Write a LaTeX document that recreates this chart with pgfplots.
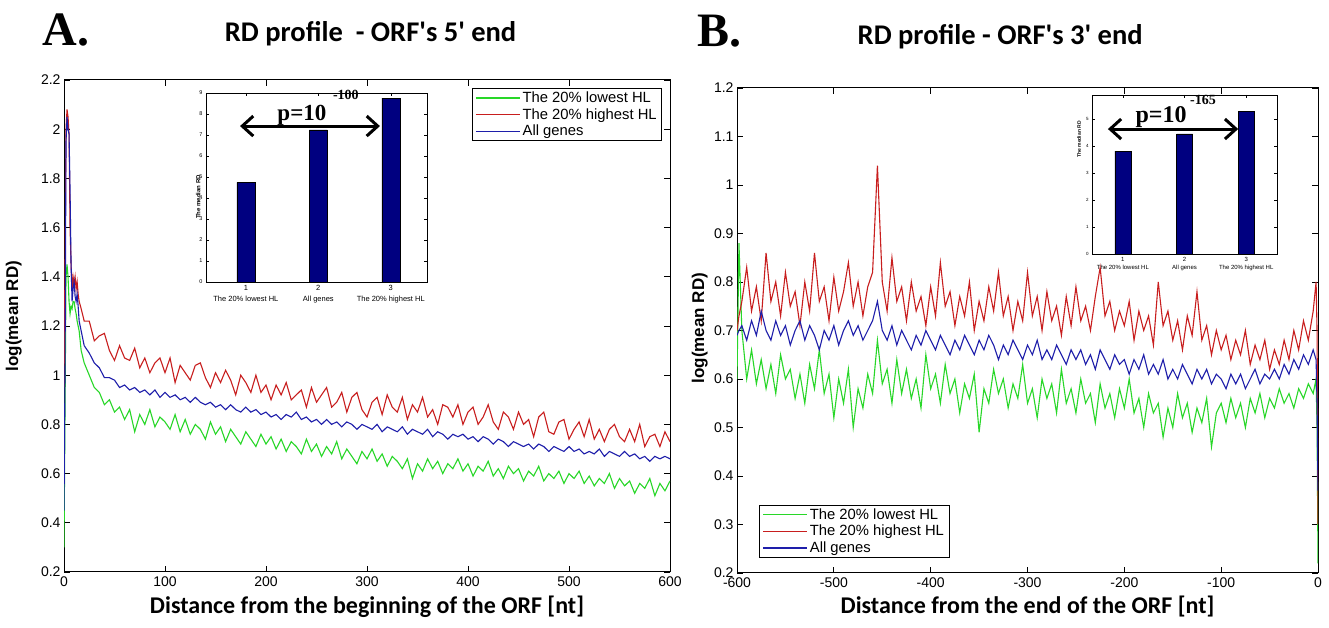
\documentclass[border=0pt]{standalone}
\usepackage{fontspec}
\setmainfont{Liberation Sans}
\newfontfamily\calib{Carlito}
\newfontfamily\serifb{Liberation Serif}
\usepackage{pgfplots}
\usepackage{pgfplotstable}
\pgfplotsset{compat=1.18}
\usetikzlibrary{arrows.meta}
\definecolor{cgreen}{RGB}{40,215,40}
\definecolor{cred}{RGB}{200,30,30}
\definecolor{cblue}{RGB}{30,30,170}
\definecolor{cbar}{RGB}{0,0,128}

\pgfplotstableread{
x g r b
0 0.30 0.95 0.45
1 0.85 1.45 1.00
2 1.40 2.00 1.95
3 1.45 2.08 2.05
4 1.40 2.05 2.00
5 1.30 1.98 1.98
6 1.25 1.60 1.75
7 1.28 1.45 1.45
8 1.27 1.35 1.30
9 1.30 1.40 1.35
10 1.30 1.37 1.38
11 1.27 1.40 1.32
12 1.25 1.35 1.30
13 1.22 1.38 1.33
14 1.20 1.33 1.28
15 1.18 1.30 1.22
17 1.10 1.27 1.18
20 1.05 1.22 1.12
25 1.00 1.22 1.09
30 0.95 1.14 1.05
35 0.93 1.16 1.03
40 0.88 1.17 0.99
45 0.90 1.10 0.99
50 0.85 1.06 0.98
55 0.87 1.12 0.95
60 0.82 1.07 0.96
65 0.86 1.06 0.94
70 0.77 1.11 0.95
75 0.84 1.03 0.93
80 0.80 1.07 0.94
85 0.86 1.01 0.92
90 0.79 1.05 0.94
95 0.83 1.07 0.91
100 0.81 1.01 0.93
105 0.78 1.07 0.91
110 0.84 0.97 0.92
115 0.77 1.04 0.90
120 0.82 1.01 0.91
125 0.76 0.98 0.89
130 0.80 1.04 0.91
135 0.78 1.05 0.89
140 0.74 0.99 0.88
145 0.81 0.95 0.89
150 0.76 1.01 0.87
155 0.79 0.97 0.88
160 0.73 1.02 0.86
165 0.78 0.98 0.88
170 0.75 0.92 0.86
175 0.72 1.00 0.85
180 0.77 0.97 0.87
185 0.74 0.93 0.85
190 0.71 1.00 0.86
195 0.76 0.93 0.84
200 0.72 0.96 0.85
205 0.75 0.90 0.83
210 0.70 0.96 0.84
215 0.74 0.92 0.82
220 0.69 0.97 0.84
225 0.73 0.90 0.83
230 0.71 0.92 0.85
235 0.68 0.94 0.82
240 0.74 0.87 0.83
245 0.69 0.95 0.81
250 0.72 0.89 0.82
255 0.67 0.92 0.80
260 0.71 0.95 0.82
265 0.68 0.87 0.80
270 0.73 0.89 0.81
275 0.66 0.93 0.79
280 0.70 0.85 0.81
285 0.67 0.91 0.80
290 0.64 0.93 0.78
295 0.69 0.86 0.80
300 0.66 0.83 0.79
305 0.70 0.89 0.78
310 0.65 0.91 0.80
315 0.68 0.84 0.77
320 0.63 0.92 0.79
325 0.67 0.87 0.78
330 0.65 0.85 0.77
335 0.62 0.91 0.79
340 0.66 0.82 0.76
345 0.58 0.88 0.78
350 0.64 0.85 0.77
355 0.61 0.91 0.76
360 0.66 0.83 0.78
365 0.62 0.86 0.75
370 0.65 0.80 0.77
375 0.60 0.88 0.76
380 0.64 0.87 0.74
385 0.62 0.83 0.76
390 0.66 0.88 0.75
395 0.61 0.80 0.76
400 0.64 0.85 0.74
405 0.59 0.87 0.75
410 0.63 0.80 0.73
415 0.61 0.83 0.75
420 0.65 0.88 0.74
425 0.59 0.81 0.72
430 0.62 0.78 0.74
435 0.58 0.85 0.73
440 0.63 0.83 0.71
445 0.60 0.78 0.73
450 0.62 0.85 0.72
455 0.57 0.80 0.71
460 0.61 0.82 0.72
465 0.59 0.75 0.70
470 0.63 0.83 0.72
475 0.57 0.85 0.71
480 0.60 0.77 0.69
485 0.58 0.76 0.71
490 0.61 0.81 0.70
495 0.56 0.82 0.69
500 0.60 0.74 0.71
505 0.58 0.78 0.69
510 0.61 0.81 0.70
515 0.56 0.75 0.68
520 0.59 0.82 0.69
525 0.55 0.74 0.68
530 0.58 0.78 0.70
535 0.56 0.73 0.67
540 0.60 0.78 0.69
545 0.54 0.80 0.68
550 0.58 0.75 0.67
555 0.55 0.73 0.69
560 0.57 0.78 0.67
565 0.52 0.73 0.68
570 0.56 0.80 0.66
575 0.54 0.71 0.67
580 0.58 0.75 0.65
585 0.51 0.76 0.67
590 0.56 0.71 0.66
595 0.53 0.77 0.67
600 0.57 0.73 0.66
}\dataA

\pgfplotstableread{
x g r b
-600 0.60 0.70 0.69
-598 0.88 0.73 0.70
-595 0.70 0.76 0.71
-590 0.60 0.83 0.68
-585 0.66 0.74 0.72
-580 0.59 0.79 0.69
-575 0.64 0.72 0.74
-570 0.58 0.86 0.70
-565 0.63 0.76 0.68
-560 0.57 0.80 0.72
-555 0.65 0.73 0.69
-550 0.60 0.82 0.71
-545 0.62 0.75 0.67
-540 0.56 0.78 0.70
-535 0.61 0.71 0.72
-530 0.55 0.80 0.68
-525 0.63 0.74 0.71
-520 0.58 0.86 0.69
-515 0.66 0.76 0.66
-510 0.57 0.79 0.70
-505 0.61 0.72 0.68
-500 0.52 0.81 0.71
-495 0.60 0.74 0.67
-490 0.55 0.78 0.70
-485 0.62 0.84 0.72
-480 0.50 0.75 0.69
-475 0.58 0.80 0.71
-470 0.54 0.73 0.68
-465 0.61 0.79 0.70
-460 0.57 0.82 0.72
-455 0.68 1.04 0.76
-450 0.59 0.80 0.70
-445 0.62 0.74 0.68
-440 0.55 0.85 0.71
-435 0.64 0.76 0.67
-430 0.57 0.79 0.70
-425 0.62 0.72 0.68
-420 0.56 0.80 0.66
-415 0.60 0.74 0.69
-410 0.54 0.77 0.67
-405 0.65 0.71 0.70
-400 0.58 0.79 0.68
-395 0.61 0.73 0.66
-390 0.55 0.84 0.69
-385 0.63 0.75 0.67
-380 0.57 0.78 0.65
-375 0.60 0.71 0.68
-370 0.53 0.77 0.66
-365 0.59 0.73 0.69
-360 0.56 0.80 0.67
-355 0.61 0.70 0.65
-350 0.49 0.76 0.68
-345 0.58 0.72 0.66
-340 0.55 0.79 0.69
-335 0.62 0.74 0.67
-330 0.57 0.82 0.64
-325 0.60 0.73 0.67
-320 0.54 0.77 0.65
-315 0.59 0.70 0.68
-310 0.56 0.76 0.66
-305 0.63 0.72 0.64
-300 0.55 0.82 0.67
-295 0.58 0.73 0.65
-290 0.52 0.77 0.68
-285 0.60 0.70 0.64
-280 0.56 0.78 0.66
-275 0.59 0.72 0.64
-270 0.53 0.75 0.67
-265 0.62 0.69 0.65
-260 0.55 0.77 0.63
-255 0.58 0.71 0.66
-250 0.53 0.79 0.64
-245 0.60 0.72 0.66
-240 0.55 0.75 0.63
-235 0.57 0.70 0.65
-230 0.51 0.77 0.62
-225 0.59 0.83 0.66
-220 0.54 0.73 0.64
-215 0.57 0.76 0.62
-210 0.52 0.70 0.65
-205 0.58 0.74 0.63
-200 0.54 0.71 0.64
-195 0.60 0.76 0.61
-190 0.53 0.68 0.64
-185 0.56 0.74 0.62
-180 0.50 0.70 0.65
-175 0.57 0.73 0.61
-170 0.53 0.67 0.63
-165 0.55 0.80 0.61
-160 0.48 0.71 0.64
-155 0.54 0.74 0.60
-150 0.50 0.68 0.62
-145 0.57 0.72 0.60
-140 0.52 0.66 0.63
-135 0.55 0.73 0.61
-130 0.49 0.69 0.59
-125 0.54 0.78 0.62
-120 0.51 0.68 0.60
-115 0.56 0.71 0.62
-110 0.46 0.65 0.59
-105 0.53 0.70 0.61
-100 0.55 0.66 0.60
-95 0.51 0.69 0.58
-90 0.56 0.64 0.61
-85 0.52 0.68 0.59
-80 0.55 0.65 0.61
-75 0.50 0.70 0.58
-70 0.56 0.63 0.60
-65 0.53 0.67 0.62
-60 0.57 0.64 0.59
-55 0.52 0.68 0.61
-50 0.56 0.62 0.60
-45 0.54 0.66 0.62
-40 0.58 0.63 0.60
-35 0.55 0.68 0.63
-30 0.57 0.64 0.61
-25 0.54 0.70 0.64
-20 0.58 0.66 0.62
-15 0.56 0.72 0.65
-10 0.59 0.68 0.63
-5 0.57 0.74 0.66
-2 0.60 0.80 0.64
-1 0.50 0.70 0.55
0 0.22 0.30 0.37
}\dataB

\pgfplotsset{
  mainax/.style={
    scale only axis, anchor=south west,
    axis line style={line width=1bp},
    every tick/.style={black, line width=0.8bp},
    major tick length=6bp,
    tick label style={font=\fontsize{14bp}{16bp}\selectfont},
    xticklabel style={yshift=-1.5bp},
    /pgf/number format/assume math mode=true,
    xlabel style={font=\calib\bfseries\fontsize{24bp}{28bp}\selectfont, at={(axis description cs:0.5,-0.071)}, anchor=center},
    ylabel style={font=\bfseries\fontsize{17bp}{20bp}\selectfont, anchor=center},
    title style={font=\calib\bfseries\fontsize{28.5bp}{32bp}\selectfont, anchor=center},
    legend image code/.code={\draw[##1, line width=1.4bp] (0bp,0bp) -- (44bp,0bp);},
    legend style={draw=black, line width=0.8bp, fill=white, font=\fontsize{14.8bp}{17bp}\selectfont,
      row sep=0.5bp, inner xsep=3bp, inner ysep=1.5bp, cells={anchor=west}},
  },
  inset/.style={
    scale only axis, anchor=south west, clip=false,
    axis background/.style={fill=white},
    axis line style={line width=0.6bp},
    every tick/.style={black, line width=0.5bp},
    major tick length=3bp,
    xtick={1,2,3},
    xticklabel style={align=center},
    /pgf/number format/assume math mode=true,
  },
}

\begin{document}
\begin{tikzpicture}[x=1bp,y=1bp]
\path[fill=white] (0,0) rectangle (1329,628);
\node[font=\serifb\bfseries\fontsize{48bp}{48bp}\selectfont] at (66,598) {A.};
\node[font=\serifb\bfseries\fontsize{48bp}{48bp}\selectfont] at (719,597) {B.};

% ---------------- Panel A ----------------
\begin{axis}[mainax, at={(64bp,56bp)}, width=606bp, height=492bp,
  xmin=0, xmax=600, ymin=0.2, ymax=2.2,
  xtick={0,100,200,300,400,500,600},
  ytick={0.2,0.4,0.6,0.8,1,1.2,1.4,1.6,1.8,2,2.2},
  xlabel={Distance from the beginning of the ORF [nt]},
  ylabel={log(mean RD)},
  ylabel style={at={(axis description cs:-0.083,0.52)}},
  title={RD profile\ \ - ORF's 5' end},
  title style={at={(axis description cs:0.506,1.081)}},
  legend style={at={(0.987,0.984)}, anchor=north east},
]
\addplot[cgreen, line width=1.1bp] table[x=x, y=g] {\dataA};
\addlegendentry{The 20\% lowest HL}
\addplot[cred, line width=1.1bp] table[x=x, y=r] {\dataA};
\addlegendentry{The 20\% highest HL}
\addplot[cblue, line width=1.1bp] table[x=x, y=b] {\dataA};
\addlegendentry{All genes}
\end{axis}

% inset A
\begin{axis}[inset, at={(206bp,346bp)}, width=221bp, height=189bp,
  xmin=0.45, xmax=3.5, ymin=0, ymax=9,
  ytick={0,1,2,3,4,5,6,7,8,9},
  xticklabels={{1\\The 20\% lowest HL},{2\\All genes},{3\\The 20\% highest HL}},
  xticklabel style={font=\fontsize{7.5bp}{10.5bp}\selectfont},
  yticklabel style={font=\fontsize{5.5bp}{6bp}\selectfont},
  ylabel={The median RD},
  ylabel style={font=\bfseries\fontsize{6bp}{7bp}\selectfont, at={(axis description cs:-0.035,0.45)}, anchor=center},
]
\addplot[ybar, bar width=18bp, fill=cbar, draw=black, line width=0.5bp] coordinates {(1,4.74) (2,7.24) (3,8.75)};
\draw[line width=3bp, {Straight Barb[length=11bp,width=20bp]}-{Straight Barb[length=11bp,width=20bp]}]
  (rel axis cs:0.154,0.825) -- (rel axis cs:0.787,0.825);
\node[font=\serifb\bfseries\fontsize{23bp}{23bp}\selectfont] at (rel axis cs:0.434,0.884) {p=10};
\node[font=\serifb\bfseries\fontsize{14bp}{14bp}\selectfont] at (rel axis cs:0.633,0.99) {-100};
\end{axis}

% ---------------- Panel B ----------------
\begin{axis}[mainax, at={(737bp,55bp)}, width=581bp, height=485bp,
  xmin=-600, xmax=0, ymin=0.2, ymax=1.2,
  xtick={-600,-500,-400,-300,-200,-100,0},
  ytick={0.2,0.3,0.4,0.5,0.6,0.7,0.8,0.9,1,1.1,1.2},
  xlabel={Distance from the end of the ORF [nt]},
  xlabel style={at={(axis description cs:0.5,-0.070)}},
  ylabel={log(mean RD)},
  ylabel style={at={(axis description cs:-0.064,0.505)}},
  title={RD profile - ORF's 3' end},
  title style={at={(axis description cs:0.453,1.093)}},
  legend style={at={(0.038,0.031)}, anchor=south west},
]
\addplot[cgreen, line width=1.1bp] table[x=x, y=g] {\dataB};
\addlegendentry{The 20\% lowest HL}
\addplot[cred, line width=1.1bp] table[x=x, y=r] {\dataB};
\addlegendentry{The 20\% highest HL}
\addplot[cblue, line width=1.1bp] table[x=x, y=b] {\dataB};
\addlegendentry{All genes}
\end{axis}

% inset B
\begin{axis}[inset, at={(1092bp,374bp)}, width=185bp, height=159bp,
  xmin=0.5, xmax=3.5, ymin=0, ymax=5.9,
  ytick={0,1,2,3,4,5},
  xticklabels={{1\\The 20\% lowest HL},{2\\All genes},{3\\The 20\% highest HL}},
  xticklabel style={font=\fontsize{6bp}{8bp}\selectfont},
  yticklabel style={font=\fontsize{4.5bp}{5bp}\selectfont},
  ylabel={The median RD},
  ylabel style={font=\bfseries\fontsize{5bp}{6bp}\selectfont, at={(axis description cs:-0.07,0.72)}, anchor=center},
]
\addplot[ybar, bar width=16bp, fill=cbar, draw=black, line width=0.5bp] coordinates {(1,3.82) (2,4.46) (3,5.28)};
\draw[line width=3bp, {Straight Barb[length=11bp,width=20bp]}-{Straight Barb[length=11bp,width=20bp]}]
  (rel axis cs:0.086,0.786) -- (rel axis cs:0.79,0.786);
\node[font=\serifb\bfseries\fontsize{24bp}{24bp}\selectfont] at (rel axis cs:0.373,0.862) {p=10};
\node[font=\serifb\bfseries\fontsize{14bp}{14bp}\selectfont] at (rel axis cs:0.60,0.97) {-165};
\end{axis}
\end{tikzpicture}
\end{document}
